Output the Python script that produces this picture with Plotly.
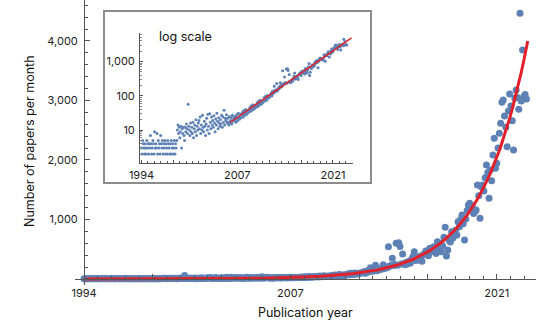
import numpy as np
import plotly.graph_objects as go

# Monthly counts of papers, Jan 1994 onwards
counts_1994_1998 = [3, 2, 5, 4, 3, 2, 4, 3, 2, 5, 3, 4,
                    2, 4, 3, 7, 4, 2, 3, 5, 4, 2, 9, 3,
                    4, 3, 8, 2, 5, 3, 4, 2, 7, 4, 3, 5,
                    2, 4, 3, 5, 2, 4, 3, 2, 5, 4, 3, 2,
                    4, 2, 5, 3, 4, 2, 3, 5, 2, 4, 3, 5]
counts_1999_2006 = [10, 14, 8, 12, 6, 9, 13, 3, 11, 8, 12, 7,
                    5, 12, 9, 15, 11, 8, 57, 13, 10, 7, 16, 9,
                    12, 8, 17, 6, 11, 14, 9, 20, 7, 13, 10, 16,
                    19, 11, 24, 8, 14, 10, 27, 12, 9, 18, 13, 7,
                    15, 22, 10, 29, 13, 8, 30, 17, 11, 24, 14, 19,
                    12, 26, 16, 9, 21, 14, 31, 18, 11, 23, 16, 13,
                    20, 15, 27, 12, 24, 17, 38, 14, 22, 19, 28, 16,
                    22, 17, 14, 25, 16, 19, 23, 15, 27, 18, 21, 24]
counts_2007_2012 = [20, 25, 17, 28, 22, 19, 31, 24, 21, 27, 23, 30,
                    28, 33, 24, 37, 30, 27, 40, 34, 29, 38, 32, 36,
                    39, 45, 35, 50, 42, 38, 55, 47, 41, 52, 44, 49,
                    54, 62, 48, 68, 57, 53, 74, 60, 66, 58, 71, 64,
                    76, 88, 70, 95, 82, 74, 102, 90, 85, 97, 92, 105,
                    108, 120, 98, 135, 115, 125, 190, 145, 132, 150, 229, 138]
counts_2013_2017 = [150, 172, 160, 188, 240, 178, 205, 190, 540, 215, 230, 350,
                    225, 245, 600, 230, 610, 545, 250, 420, 262, 238, 280, 255,
                    300, 270, 330, 375, 459, 310, 350, 320, 380, 345, 300, 410,
                    420, 470, 440, 390, 516, 500, 460, 540, 480, 430, 627, 520,
                    600, 459, 560, 700, 869, 387, 487, 650, 620, 795, 690, 760]
counts_2018_2022 = [820, 739, 963, 880, 1000, 1075, 930, 655, 1010, 1150, 1244, 1272,
                    1180, 1230, 1100, 1131, 1160, 1580, 1400, 1020, 1551, 1580, 1480, 1700,
                    1916, 1790, 1356, 1832, 1650, 2084, 2365, 1860, 1945, 2200, 2450, 2617,
                    2970, 3008, 2740, 2550, 2224, 2824, 3109, 2908, 2661, 2168, 3037, 3176,
                    3050, 2852, 4465, 2990, 3849, 3064, 3100, 3025]

x_tick_labels = ["1994", "", "", "2007", "", "", "2021"]
main_y_ticks = [1000, 2000, 3000, 4000]
main_y_labels = ["1,000", "2,000", "3,000", "4,000"]
inset_y_ticks = [10, 100, 1000]
inset_y_labels = ["10", "100", "1,000"]
fit_start_month = 148

counts = np.array(counts_1994_1998 + counts_1999_2006 + counts_2007_2012
                  + counts_2013_2017 + counts_2018_2022, dtype=float)
months = np.arange(len(counts))
x_tick_vals = [i * 160 / 3 for i in range(7)]
inset_minor_vals = [d * 10 ** k for k in range(0, 4) for d in range(2, 10)]

# exponential fit (log-linear) on recent data
mask = months >= fit_start_month
slope, icpt = np.polyfit(months[mask], np.log10(counts[mask]), 1)
fit_x_main = np.linspace(0, months[-1] + 1, 200)
fit_y_main = 10 ** (icpt + slope * fit_x_main)
fit_x_in = np.linspace(fit_start_month, months[-1] + 8, 100)
fit_y_in = 10 ** (icpt + slope * fit_x_in)

BLUE = "#5E81B5"
RED = "#E3202A"
AX = "#555555"
FONT = "Inter"

fig = go.Figure()
fig.add_trace(go.Scatter(x=months, y=counts, mode="markers",
                         marker=dict(color=BLUE, size=7), cliponaxis=False,
                         xaxis="x", yaxis="y", showlegend=False))
fig.add_trace(go.Scatter(x=fit_x_main, y=fit_y_main, mode="lines",
                         line=dict(color=RED, width=3), cliponaxis=False,
                         xaxis="x", yaxis="y", showlegend=False))
fig.add_trace(go.Scatter(x=months, y=counts, mode="markers",
                         marker=dict(color=BLUE, size=3),
                         xaxis="x2", yaxis="y2", showlegend=False))
fig.add_trace(go.Scatter(x=fit_x_in, y=fit_y_in, mode="lines",
                         line=dict(color=RED, width=1.5),
                         xaxis="x2", yaxis="y2", showlegend=False))

W, H = 536, 324
L, B = 75, 39
pw, ph = W - L, H - B


def px(xp):
    return (xp - L) / pw


def py(yp):
    return (ph - yp) / ph


tickfont = dict(family=FONT, size=11, color="#222222")

fig.update_layout(
    width=W, height=H, margin=dict(l=L, r=0, t=0, b=B),
    paper_bgcolor="white", plot_bgcolor="white",
    font=dict(family=FONT, color="#222222"),
    xaxis=dict(domain=[0, 1], range=[-7, 350.4], anchor="free", position=py(279),
               showgrid=False, zeroline=False, showline=True, linecolor=AX, linewidth=1,
               tickmode="array", tickvals=x_tick_vals, ticktext=x_tick_labels,
               ticks="inside", ticklen=5, tickcolor=AX, tickfont=tickfont,
               ticklabelstandoff=4,
               minor=dict(tickmode="linear", tick0=0, dtick=160 / 15, ticks="inside",
                          ticklen=3, tickcolor=AX, showgrid=False)),
    yaxis=dict(domain=[0, 1], range=[-101, 4689], anchor="free", position=px(84),
               showgrid=False, zeroline=False, showline=True, linecolor=AX, linewidth=1,
               tickmode="array", tickvals=main_y_ticks, ticktext=main_y_labels,
               ticks="inside", ticklen=5, tickcolor=AX, tickfont=tickfont,
               ticklabelstandoff=4,
               minor=dict(tickmode="linear", tick0=0, dtick=200, ticks="inside",
                          ticklen=3, tickcolor=AX, showgrid=False)),
    xaxis2=dict(domain=[px(140), px(353)], range=[-2.5, 353.5], anchor="y2",
                showgrid=False, zeroline=False, showline=True, linecolor=AX, linewidth=1,
                tickmode="array", tickvals=x_tick_vals, ticktext=x_tick_labels,
                ticks="inside", ticklen=3, tickcolor=AX, tickfont=tickfont,
                ticklabelstandoff=2,
                minor=dict(tickmode="linear", tick0=0, dtick=160 / 15, ticks="inside",
                           ticklen=2, tickcolor=AX, showgrid=False)),
    yaxis2=dict(domain=[py(163), py(33)], type="log", range=[0.04, 3.83], anchor="x2",
                showgrid=False, zeroline=False, showline=True, linecolor=AX, linewidth=1,
                tickmode="array", tickvals=inset_y_ticks, ticktext=inset_y_labels,
                ticks="inside", ticklen=3, tickcolor=AX, tickfont=tickfont,
                ticklabelstandoff=2,
                minor=dict(tickmode="array", tickvals=inset_minor_vals, ticks="inside",
                           ticklen=2, tickcolor="#888888", showgrid=False)),
    shapes=[dict(type="rect", xref="paper", yref="paper",
                 x0=px(104), x1=px(371), y0=py(183), y1=py(11),
                 line=dict(color="#8C8C8C", width=2), fillcolor="white", layer="below")],
    annotations=[
        dict(text="log scale", xref="paper", yref="paper", x=px(157), y=py(37),
             xanchor="left", yanchor="middle", showarrow=False,
             font=dict(family=FONT, size=12.5, color="#111111")),
        dict(text="Publication year", xref="paper", yref="paper", x=px(305), y=py(312),
             xanchor="center", yanchor="middle", showarrow=False,
             font=dict(family=FONT, size=12.5, color="#111111")),
        dict(text="Number of papers per month", xref="paper", yref="paper", x=px(29),
             y=py(141), xanchor="center", yanchor="middle", showarrow=False, textangle=-90,
             font=dict(family=FONT, size=12.5, color="#111111")),
    ],
)

fig.write_html("out.html")
